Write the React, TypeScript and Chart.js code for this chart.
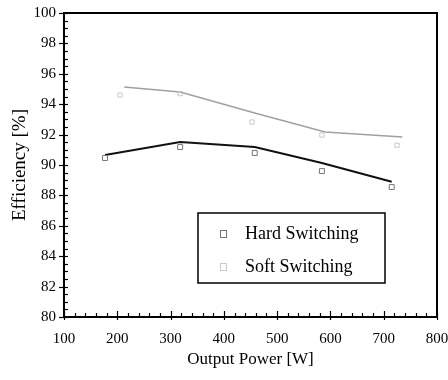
import { useEffect, useRef } from "react";
import { Chart, registerables } from "chart.js";

Chart.register(...registerables);

// Data
const hardX = [177, 318, 458, 584, 715];
const hardMarkers = [90.46, 91.18, 90.79, 89.6, 88.55];
const hardFit = [90.66, 91.51, 91.18, 90.13, 88.9];

const softX = [205, 318, 453, 584, 725];
const softMarkers = [94.6, 94.7, 92.83, 91.97, 91.3];
const softFitX = [213, 318, 458, 590, 735];
const softFit = [95.13, 94.8, 93.42, 92.17, 91.84];

const xTickValues = [100, 200, 300, 400, 500, 600, 700, 800];
const yTickValues = [80, 82, 84, 86, 88, 90, 92, 94, 96, 98, 100];

const seriesNames = ["Hard Switching", "Soft Switching"];

const FONT = "'Liberation Serif', 'Times New Roman', serif";

const framePlugin = {
  id: "frameTicks",
  afterDraw(chart: any) {
    const { ctx, chartArea } = chart;
    const xs = chart.scales.x;
    const ys = chart.scales.y;
    const { left, right, top, bottom } = chartArea;
    ctx.save();
    ctx.strokeStyle = "#000";
    ctx.lineWidth = 2;
    ctx.strokeRect(left, top, right - left, bottom - top);
    ctx.lineWidth = 1.2;
    for (let v = 80; v <= 100.001; v += 0.5) {
      const y = Math.round(ys.getPixelForValue(v)) + 0.5;
      const major = Math.abs(v / 2 - Math.round(v / 2)) < 1e-6;
      ctx.beginPath();
      if (major) {
        ctx.moveTo(left - 5, y);
        ctx.lineTo(left + 4, y);
      } else {
        ctx.moveTo(left, y);
        ctx.lineTo(left + 4, y);
      }
      ctx.stroke();
    }
    for (let v = 100; v <= 800.001; v += 20) {
      const x = Math.round(xs.getPixelForValue(v)) + 0.5;
      const major = Math.abs(v % 100) < 1e-6;
      ctx.beginPath();
      if (major) {
        ctx.moveTo(x, bottom + 3);
        ctx.lineTo(x, bottom - 6);
      } else {
        ctx.moveTo(x, bottom);
        ctx.lineTo(x, bottom - 4);
      }
      ctx.stroke();
    }

    // legend box
    const bx = 198, by = 213, bw = 187, bh = 70;
    ctx.lineWidth = 1.5;
    ctx.strokeRect(bx, by, bw, bh);
    ctx.font = `18px ${FONT}`;
    ctx.fillStyle = "#000";
    ctx.textBaseline = "middle";
    ctx.textAlign = "left";
    const ds = chart.data.datasets;
    const rows = [
      { ds: ds[0], y: 234 },
      { ds: ds[2], y: 267 },
    ];
    rows.forEach((r, i) => {
      ctx.fillText(seriesNames[i], 245, r.y);
      ctx.strokeStyle = r.ds.borderColor;
      ctx.lineWidth = 1;
      ctx.strokeRect(220.5, r.y - 3.5, 6, 7);
    });
    ctx.restore();
  },
};

export default function App() {
  const ref = useRef<HTMLCanvasElement | null>(null);

  useEffect(() => {
    if (!ref.current) return;
    const chart = new Chart(ref.current, {
      type: "scatter",
      data: {
        datasets: [
          {
            label: seriesNames[0],
            data: hardX.map((x, i) => ({ x, y: hardMarkers[i] })),
            pointStyle: "rect",
            pointRadius: 3.5,
            borderColor: "#777",
            backgroundColor: "rgba(255,255,255,0)",
            borderWidth: 1,
            showLine: false,
          },
          {
            label: "hard fit",
            data: hardX.map((x, i) => ({ x, y: hardFit[i] })),
            showLine: true,
            pointRadius: 0,
            borderColor: "#111",
            borderWidth: 2,
          },
          {
            label: seriesNames[1],
            data: softX.map((x, i) => ({ x, y: softMarkers[i] })),
            pointStyle: "rect",
            pointRadius: 3,
            borderColor: "#c8c8c8",
            backgroundColor: "rgba(255,255,255,0)",
            borderWidth: 1,
            showLine: false,
          },
          {
            label: "soft fit",
            data: softFitX.map((x, i) => ({ x, y: softFit[i] })),
            showLine: true,
            pointRadius: 0,
            borderColor: "#a0a0a0",
            borderWidth: 1.5,
          },
        ],
      },
      options: {
        responsive: false,
        animation: false,
        layout: { padding: { top: 13, right: 11, left: 0, bottom: 0 } },
        plugins: {
          legend: { display: false },
          tooltip: { enabled: false },
        },
        scales: {
          x: {
            type: "linear",
            min: 100,
            max: 800,
            afterBuildTicks: (s: any) => {
              s.ticks = xTickValues.map((v) => ({ value: v }));
            },
            afterFit: (s: any) => {
              s.height = 63;
              s.paddingLeft = 0;
              s.paddingRight = 0;
            },
            grid: { display: false, drawTicks: false },
            border: { display: false },
            ticks: {
              padding: 13,
              color: "#000",
              font: { family: FONT, size: 15 },
              maxRotation: 0,
            },
            title: {
              display: true,
              text: "Output Power [W]",
              color: "#000",
              font: { family: FONT, size: 17 },
              padding: { top: 0, bottom: 10 },
            },
          },
          y: {
            type: "linear",
            min: 80,
            max: 100,
            afterBuildTicks: (s: any) => {
              s.ticks = yTickValues.map((v) => ({ value: v }));
            },
            afterFit: (s: any) => {
              s.width = 64;
              s.paddingTop = 0;
              s.paddingBottom = 0;
            },
            grid: { display: false, drawTicks: false },
            border: { display: false },
            ticks: {
              padding: 8,
              color: "#000",
              font: { family: FONT, size: 15 },
            },
            title: {
              display: true,
              text: "Efficiency [%]",
              color: "#000",
              font: { family: FONT, size: 19 },
              padding: { top: 9, bottom: 0 },
            },
          },
        },
      },
      plugins: [framePlugin],
    });
    return () => chart.destroy();
  }, []);

  return (
    <div style={{ position: "fixed", left: 0, top: 0, width: 448, height: 380, background: "#fff" }}>
      <canvas ref={ref} width={448} height={380} style={{ width: 448, height: 380 }} />
    </div>
  );
}
